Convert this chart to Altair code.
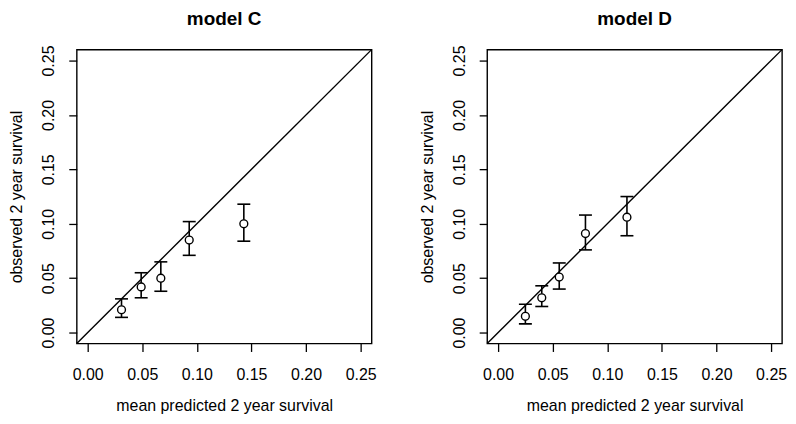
import altair as alt
import pandas as pd

# reference (identity) line limits and tick values
diag = [-0.01, 0.26]
ticks = [0.0, 0.05, 0.10, 0.15, 0.20, 0.25]

# model C
c_pred = [0.031, 0.049, 0.067, 0.093, 0.143]
c_obs = [0.021, 0.042, 0.050, 0.085, 0.100]
c_lo = [0.014, 0.032, 0.038, 0.071, 0.084]
c_hi = [0.031, 0.055, 0.065, 0.102, 0.118]

# model D
d_pred = [0.025, 0.040, 0.056, 0.080, 0.118]
d_obs = [0.015, 0.032, 0.051, 0.091, 0.106]
d_lo = [0.008, 0.024, 0.040, 0.076, 0.089]
d_hi = [0.026, 0.043, 0.064, 0.108, 0.125]

FONT = "Liberation Sans"
XT = "mean predicted 2 year survival"
YT = "observed 2 year survival"

common_axis = dict(
    values=ticks, format=".2f", grid=False, domain=False,
    tickSize=8, tickColor="black", tickWidth=1.3,
    labelFont=FONT, labelFontSize=16, labelColor="black",
    titleFont=FONT, titleFontSize=16, titleFontWeight="normal", titleColor="black",
)


def X(field):
    return alt.X(
        field,
        type="quantitative",
        title=XT,
        scale=alt.Scale(domain=[-0.01, 0.26], nice=False, zero=False),
        axis=alt.Axis(labelPadding=15, titlePadding=15, **common_axis),
    )


def Y(field):
    return alt.Y(
        field,
        type="quantitative",
        title=YT,
        scale=alt.Scale(domain=[-0.01, 0.26], nice=False, zero=False),
        axis=alt.Axis(labelPadding=12, titlePadding=16, labelAngle=270,
                      **common_axis),
    )


def panel(title, pred, obs, lo, hi):
    df = pd.DataFrame({"pred": pred, "obs": obs, "lo": lo, "hi": hi})
    dl = pd.DataFrame({"pred": diag, "obs": diag})
    line = alt.Chart(dl).mark_line(color="black", strokeWidth=1.4).encode(
        x=X("pred"), y=Y("obs"))
    bars = alt.Chart(df).mark_rule(color="black", strokeWidth=1.6).encode(
        x=X("pred"), y=Y("lo"), y2="hi")
    cap_lo = alt.Chart(df).mark_tick(orient="horizontal", color="black",
                                     size=13, thickness=1.6, opacity=1).encode(
        x=X("pred"), y=Y("lo"))
    cap_hi = alt.Chart(df).mark_tick(orient="horizontal", color="black",
                                     size=13, thickness=1.6, opacity=1).encode(
        x=X("pred"), y=Y("hi"))
    pts = alt.Chart(df).mark_point(shape="circle", size=62, fill="white",
                                   fillOpacity=1, stroke="black",
                                   strokeWidth=1.4, opacity=1).encode(
        x=X("pred"), y=Y("obs"))
    return alt.layer(line, bars, cap_lo, cap_hi, pts).properties(
        width=296, height=295,
        title=alt.TitleParams(title, fontSize=19, font=FONT, fontWeight="bold",
                              anchor="middle", offset=16, color="black"),
    )


chart = alt.hconcat(
    panel("model C", c_pred, c_obs, c_lo, c_hi),
    panel("model D", d_pred, d_obs, d_lo, d_hi),
    spacing=41,
).properties(
    padding={"left": 0, "right": 0, "top": 0, "bottom": 0},
).configure(
    background="white",
).configure_view(
    stroke="black", strokeWidth=1.4,
)

chart.save("out.html", embed_options={"renderer": "svg", "actions": False})
